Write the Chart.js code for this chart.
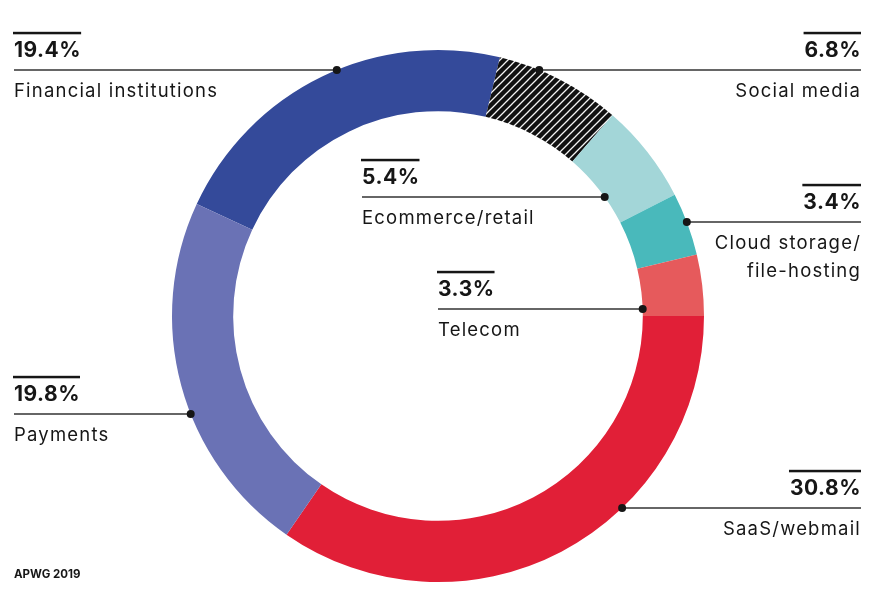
<!DOCTYPE html>
<html>
<head>
<meta charset="utf-8">
<script src="https://cdn.jsdelivr.net/npm/chart.js@4.4.1/dist/chart.umd.min.js"></script>
<style>
    body { margin: 0; background: #fff; }
    #wrap { width: 880px; height: 606px; }
</style>
</head>
<body>
<div id="wrap"><canvas id="sectorChart" width="880" height="606"></canvas></div>
<script>
// share of phishing attacks by targeted sector (APWG 2019)
const sectors = [
    ['Financial institutions'],
    ['Social media'],
    ['Ecommerce/retail'],
    ['Cloud storage/', 'file-hosting'],
    ['Telecom'],
    ['SaaS/webmail'],
    ['Payments']
];
const shares = [19.4, 6.8, 5.4, 3.4, 3.3, 30.8, 19.8];
const shareLabels = ['19.4%', '6.8%', '5.4%', '3.4%', '3.3%', '30.8%', '19.8%'];

// hatch fill for the social media slice
function hatchPattern() {
    const tile = document.createElement('canvas');
    tile.width = 8;
    tile.height = 8;
    const t = tile.getContext('2d');
    t.fillStyle = '#111';
    t.fillRect(0, 0, 8, 8);
    t.strokeStyle = '#f4f4f4';
    t.lineWidth = 1.3;
    t.beginPath();
    t.moveTo(-2, 10); t.lineTo(10, -2);
    t.moveTo(-2, 2); t.lineTo(2, -2);
    t.moveTo(6, 10); t.lineTo(10, 6);
    t.stroke();
    return t.createPattern(tile, 'repeat');
}

const sliceColors = ['#344a9a', hatchPattern(), '#a3d6d8', '#49b9bb', '#e65a5c', '#e11f37', '#6a72b5'];

// where each callout sits (same order as the data)
const callouts = [
    { x: 14,  y: 33,  align: 'left',  side: -1, edge: 'outer' },
    { x: 861, y: 33,  align: 'right', side: 1,  edge: 'outer' },
    { x: 362, y: 160, align: 'left',  side: 1,  edge: 'inner' },
    { x: 861, y: 185, align: 'right', side: 1,  edge: 'outer' },
    { x: 438, y: 272, align: 'left',  side: 1,  edge: 'inner' },
    { x: 861, y: 471, align: 'right', side: 1,  edge: 'outer' },
    { x: 14,  y: 377, align: 'left',  side: -1, edge: 'outer' }
];

const calloutPlugin = {
    id: 'callouts',
    afterDraw(chart) {
        const ctx = chart.ctx;
        const arc = chart.getDatasetMeta(0).data[0];
        ctx.save();
        callouts.forEach((c, i) => {
            const r = c.edge === 'outer' ? arc.outerRadius : arc.innerRadius;
            const lineY = c.y + 37;
            const dy = lineY - arc.y;
            const dotX = arc.x + c.side * Math.sqrt(Math.max(r * r - dy * dy, 0));

            // percentage with rule above it
            ctx.letterSpacing = '0.5px';
            ctx.font = 'bold 21px Inter';
            ctx.fillStyle = '#161616';
            ctx.textAlign = c.align;
            ctx.textBaseline = 'alphabetic';
            ctx.fillText(shareLabels[i], c.x, c.y + 24);
            const w = ctx.measureText(shareLabels[i]).width;
            const x0 = c.align === 'left' ? c.x : c.x - w;
            ctx.fillRect(x0 - 1, c.y - 1.2, w + 1, 2.5);

            // leader line and dot
            ctx.strokeStyle = '#333';
            ctx.lineWidth = 1.5;
            ctx.beginPath();
            ctx.moveTo(c.x, lineY);
            ctx.lineTo(dotX, lineY);
            ctx.stroke();
            ctx.beginPath();
            ctx.arc(dotX, lineY, 4, 0, Math.PI * 2);
            ctx.fill();

            // category name
            ctx.letterSpacing = '1.2px';
            ctx.font = '18.5px Inter';
            sectors[i].forEach((line, j) => {
                ctx.fillText(line, c.x, c.y + 64 + j * 28);
            });
        });

        ctx.letterSpacing = '0px';
        ctx.font = 'bold 11.5px Inter';
        ctx.textAlign = 'left';
        ctx.fillText('APWG 2019', 14, 578);
        ctx.restore();
    }
};

new Chart(document.getElementById('sectorChart'), {
    type: 'doughnut',
    data: {
        labels: sectors.map(s => s.join(' ')),
        datasets: [{
            data: shares,
            backgroundColor: sliceColors,
            borderWidth: 0,
            hoverOffset: 0,
            offset: 0
        }]
    },
    options: {
        responsive: false,
        animation: false,
        events: [],
        rotation: -65.1,
        cutout: '77%',
        layout: { padding: { top: 50, bottom: 24, left: 172, right: 176 } },
        plugins: {
            legend: { display: false },
            tooltip: { enabled: false }
        }
    },
    plugins: [calloutPlugin]
});
</script>
</body>
</html>
